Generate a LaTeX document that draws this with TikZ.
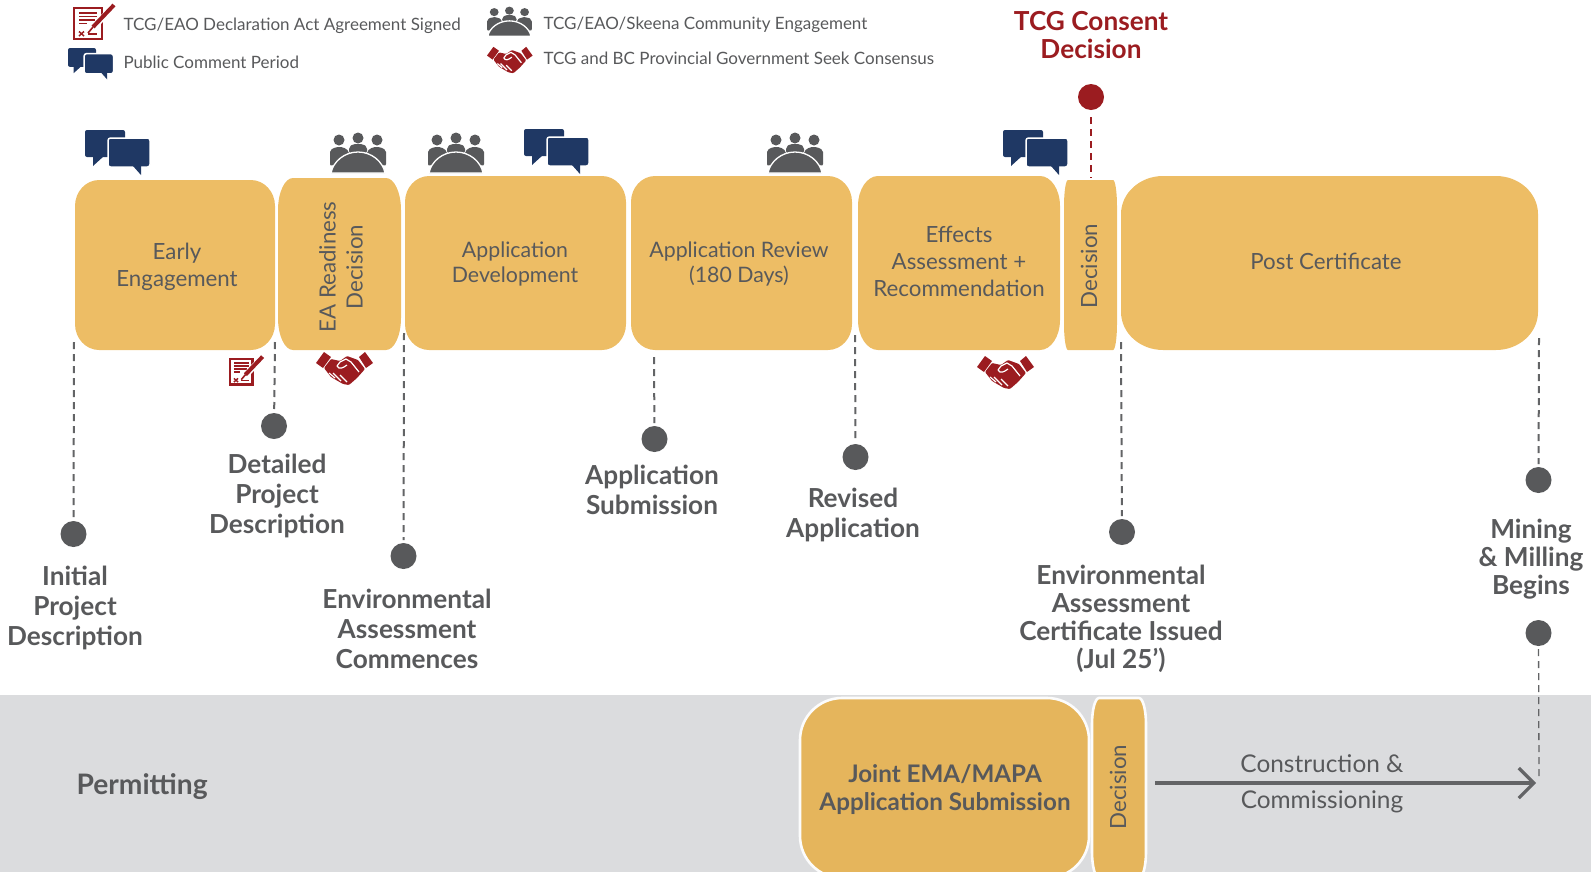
\documentclass[tikz,border=0pt]{standalone}
\usepackage{fontspec}
\setmainfont{Lato}
\usetikzlibrary{arrows.meta}
\definecolor{stageyellow}{HTML}{EDBD65}
\definecolor{bandyellow}{HTML}{E5B55C}
\definecolor{bandgrey}{HTML}{DBDCDE}
\definecolor{textgrey}{HTML}{58595B}
\definecolor{arrowgrey}{HTML}{636466}
\definecolor{navyblue}{HTML}{1F3864}
\definecolor{darkred}{HTML}{9B1C20}
% box with elliptical corners: x0, y0, x1, y1, rx, ry
\newcommand{\stagebox}[7][stagefill]{%
  \path[#1] (#2+#6,#3) -- (#4-#6,#3)
    .. controls (#4-.45*#6,#3) and (#4,#3+.45*#7) .. (#4,#3+#7) -- (#4,#5-#7)
    .. controls (#4,#5-.45*#7) and (#4-.45*#6,#5) .. (#4-#6,#5) -- (#2+#6,#5)
    .. controls (#2+.45*#6,#5) and (#2,#5-.45*#7) .. (#2,#5-#7) -- (#2,#3+#7)
    .. controls (#2,#3+.45*#7) and (#2+.45*#6,#3) .. (#2+#6,#3) -- cycle;}
\tikzset{
  stagefill/.style={fill=stageyellow},
  bandfill/.style={fill=bandyellow,draw=white!92!bandgrey,line width=2.6pt},
  stagetext/.style={text=textgrey,align=center,font=\fontsize{22.3}{27}\selectfont},
  narrowtext/.style={text=textgrey,align=center,font=\fontsize{21.3}{25}\selectfont},
  marktext/.style={text=textgrey,align=center,font=\fontsize{26.2}{30}\selectfont\bfseries},
  tightmark/.style={text=textgrey,align=center,font=\fontsize{26.2}{28}\selectfont\bfseries},
  legendtext/.style={text=textgrey,anchor=west,font=\fontsize{17}{20}\selectfont},
  stagedot/.style={circle,fill=textgrey,minimum size=26pt,inner sep=0pt,outer sep=3pt},
  leader/.style={draw=arrowgrey,line width=2pt,dash pattern=on 7pt off 5pt},
  bubbles/.pic={
    \fill[navyblue,rounded corners=2pt] (0,0) rectangle (40,27);
    \fill[navyblue] (8,26) -- (8,36) -- (19,26) -- cycle;
    \fill[navyblue,draw=white,line width=1.5pt,rounded corners=2.5pt] (23,8) rectangle (65,37);
    \fill[navyblue] (48,36) -- (56,45) -- (56,36) -- cycle;
  },
  people/.pic={
    \fill[textgrey] (9,7) circle (5.5);
    \fill[textgrey] (28,5) circle (5.5);
    \fill[textgrey] (47,7) circle (5.5);
    \fill[textgrey,rounded corners=2pt] (0,33) -- (0,17) -- (6,14) -- (13,14) -- (19,18) -- (19,27) -- cycle;
    \fill[textgrey,rounded corners=2pt] (19,20) -- (19,14) -- (23,11) -- (33,11) -- (37,14) -- (37,20) -- cycle;
    \fill[textgrey,rounded corners=2pt] (56,33) -- (56,17) -- (50,14) -- (43,14) -- (37,18) -- (37,27) -- cycle;
    \fill[textgrey,draw=white,line width=1.3pt] (1,40) .. controls (3,29) and (14,19) .. (28,19) .. controls (42,19) and (53,29) .. (55,40) -- cycle;
  },
  handshake/.pic={
    \fill[darkred] (0,12) -- (8,1) -- (15,6) -- (7,17) -- cycle;
    \fill[darkred] (57,12) -- (49,1) -- (43,6) -- (50,17) -- cycle;
    \fill[darkred,rounded corners=1pt] (15,8) -- (24,10) -- (31,5) -- (42,9) -- (49,18) -- (41,27) -- (33,34) -- (27,33) -- (15,26) -- (8,17) -- cycle;
    \draw[white,line width=1.2pt] (21,15) -- (24,11) -- (30,8) -- (35,11) -- (43,21);
    \draw[white,line width=1.2pt] (21,15) .. controls (23,19) and (27,17) .. (31,14);
    \draw[white,line width=1.2pt] (13,22) -- (19,27);
    \draw[white,line width=1.2pt] (17,22) -- (25,30);
    \draw[white,line width=1.2pt] (24,24) -- (31,31);
  },
  document/.pic={
    \draw[darkred,line width=2.6pt] (1,5) rectangle (29,36);
    \draw[darkred,line width=1.6pt] (6,10) -- (24,10);
    \draw[darkred,line width=1.6pt] (6,13.5) -- (24,13.5);
    \draw[darkred,line width=1.6pt] (6,17) -- (22,17);
    \draw[darkred,line width=1.6pt] (6,20.5) -- (14,20.5);
    \draw[darkred,line width=1.5pt] (6,28.5) -- (11,33);
    \draw[darkred,line width=1.5pt] (11,28.5) -- (6,33);
    \draw[darkred,line width=1.6pt] (15,31) -- (24,31);
    \draw[white,line width=6pt] (17,28) -- (38,6);
    \draw[darkred,line width=1.6pt] (15,30) -- (20,24);
    \draw[darkred,line width=4pt] (20,24) -- (41,2);
  }
}
\begin{document}
\begin{tikzpicture}[x=1pt,y=-1pt]
  \useasboundingbox (0,0) rectangle (1591,871);
  % permitting band
  \fill[bandgrey] (0,695) rectangle (1591,880);
  % stage boxes
  \stagebox{75}{180}{275}{350}{24}{26}
  \stagebox{278}{178}{401}{350}{15}{32}
  \stagebox{405}{176}{626}{350}{24}{26}
  \stagebox{631}{176}{852}{350}{24}{26}
  \stagebox{858}{176}{1060}{350}{20}{30}
  \stagebox{1064}{180}{1117}{350}{4}{26}
  \stagebox{1121}{176}{1538}{350}{42}{38}
  \stagebox[bandfill]{800}{698}{1089}{878}{42}{42}
  \stagebox[bandfill]{1092}{698}{1146}{878}{7}{26}
  % stage texts
  \node[stagetext] (early)       at (177,267) {Early\\Engagement};
  \node[stagetext,rotate=90] (readiness)   at (341,267) {EA Readiness\\Decision};
  \node[narrowtext] (appdev)      at (515,264) {Application\\Development};
  \node[narrowtext] (appreview)   at (739,264) {Application Review\\(180 Days)};
  \node[stagetext] (effects)     at (959,261) {Effects\\Assessment +\\Recommendation};
  \node[stagetext,rotate=90] (decision)    at (1089,266) {Decision};
  \node[stagetext] (post)        at (1326,261) {Post Certificate};
  \node[stagetext,font=\fontsize{24.2}{28}\selectfont\bfseries] (joint) at (945,790) {Joint EMA/MAPA\\Application Submission};
  \node[stagetext,rotate=90] (decisiontwo) at (1118,787) {Decision};
  % milestone dots
  \node[stagedot] (initialdot)   at (73.5,534) {};
  \node[stagedot] (detaileddot)  at (274,426) {};
  \node[stagedot] (commencedot)  at (403.5,556) {};
  \node[stagedot] (submitdot)    at (654.5,439) {};
  \node[stagedot] (reviseddot)   at (855.5,457) {};
  \node[stagedot] (issueddot)    at (1122,532) {};
  \node[stagedot] (miningdot)    at (1538.5,480) {};
  \node[stagedot] (lowerdot)     at (1538.5,633) {};
  \node[stagedot,fill=darkred] (consentdot) at (1091,97) {};
  % free ends of the leaders
  \coordinate (initialtop)  at (74,342);
  \coordinate (detailedtop) at (275,342);
  \coordinate (commencetop) at (404,333);
  \coordinate (submittop)   at (654,357);
  \coordinate (revisedtop)  at (855,335);
  \coordinate (issuedtop)   at (1121,342);
  \coordinate (miningtop)   at (1539,338);
  \coordinate (lowerend)    at (1539,776);
  \coordinate (consentend)  at (1091,178);
  \coordinate (arrowstart)  at (1155,783);
  \coordinate (arrowend)    at (1536,783);
  % drawing the leaders
  \draw[leader] (initialtop)  -- (initialdot);
  \draw[leader] (detailedtop) -- (detaileddot);
  \draw[leader] (commencetop) -- (commencedot);
  \draw[leader] (submittop)   -- (submitdot);
  \draw[leader] (revisedtop)  -- (reviseddot);
  \draw[leader] (issuedtop)   -- (issueddot);
  \draw[leader] (miningtop)   -- (miningdot);
  \draw[leader,line width=1.3pt] (lowerdot) -- (lowerend);
  \draw[leader,draw=darkred,shorten <=4pt] (consentdot) -- (consentend);
  \draw[arrowgrey,line width=3.2pt,-{Straight Barb[length=15pt,width=30pt,line width=3.2pt]}] (arrowstart) -- (arrowend);
  % milestone labels
  \node[marktext] (initial)  at (75,607.5)   {Initial\\Project\\Description};
  \node[marktext] (detailed) at (277,495.5)  {Detailed\\Project\\Description};
  \node[marktext] (commence) at (407,629)  {Environmental\\Assessment\\Commences};
  \node[marktext] (submit)   at (652,489.5)  {Application\\Submission};
  \node[marktext] (revised)  at (853,515)  {Revised\\Application};
  \node[tightmark] (issued) at (1121,619) {Environmental\\Assessment\\Certificate Issued\\(Jul 25’)};
  \node[tightmark] (mining) at (1531,559) {Mining\\\& Milling\\Begins};
  \node[tightmark,text=darkred] (consent) at (1091,35) {TCG Consent\\Decision};
  \node[marktext,anchor=west,font=\fontsize{28.2}{30}\selectfont\bfseries] (permitting) at (73,787) {Permitting};
  \node[stagetext,font=\fontsize{24.4}{36}\selectfont] (construction) at (1322,784) {Construction \&\\Commissioning};
  % legend
  \node[legendtext] (legenddoc)    at (120,26) {TCG/EAO Declaration Act Agreement Signed};
  \node[legendtext] (legendbubble) at (120,62) {Public Comment Period};
  \node[legendtext] (legendpeople) at (540,25) {TCG/EAO/Skeena Community Engagement};
  \node[legendtext] (legendhands)  at (540,58) {TCG and BC Provincial Government Seek Consensus};
  % legend icons
  \pic[scale=1] at (73,3) {document};
  \pic[scale=.7] at (68,48) {bubbles};
  \pic[xscale=.8,yscale=.73] at (487,7) {people};
  \pic[scale=.8] at (487,46) {handshake};
  % icons on the stages
  \pic at (85,130) {bubbles};
  \pic at (330,133) {people};
  \pic at (428,133) {people};
  \pic at (524,129) {bubbles};
  \pic at (767,133) {people};
  \pic at (1003,130) {bubbles};
  \pic[scale=.82] at (229,355) {document};
  \pic at (316,351) {handshake};
  \pic at (977,355) {handshake};
\end{tikzpicture}
\end{document}
